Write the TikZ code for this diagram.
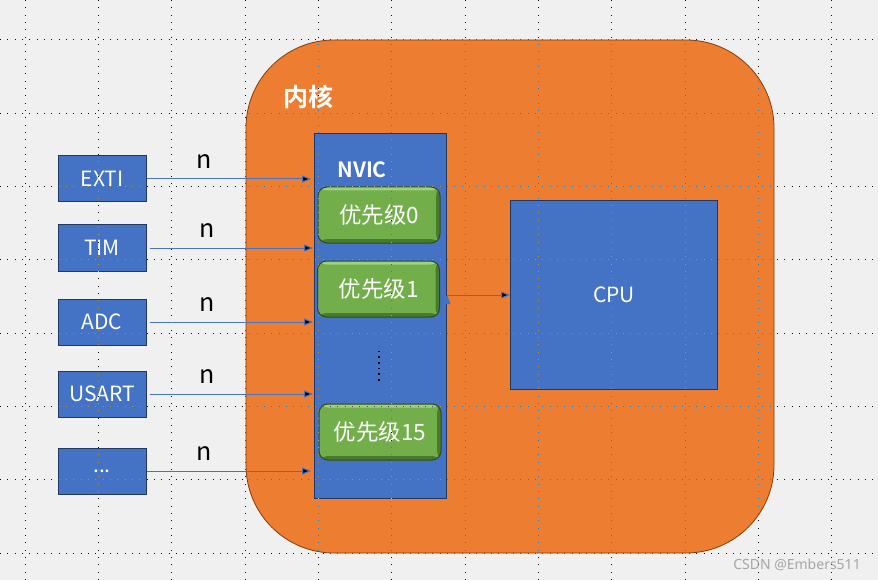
\documentclass[tikz,border=0pt]{standalone}
\usepackage{fontspec}
\setmainfont{Noto Sans CJK SC}[BoldFont={Noto Sans CJK SC Bold}]
\newfontfamily\markfont{Noto Sans}
\usetikzlibrary{arrows.meta}
\definecolor{bggray}{HTML}{F0F0F0}
\definecolor{coreorange}{HTML}{ED7D31}
\definecolor{corerim}{HTML}{843C0C}
\definecolor{boxblue}{HTML}{4472C4}
\definecolor{boxrim}{HTML}{203864}
\definecolor{prigreen}{HTML}{72AF4A}
\definecolor{prilight}{HTML}{9FD27C}
\definecolor{pridark}{HTML}{4A7A2C}
\definecolor{pririm}{HTML}{2E4A1C}
\definecolor{markgray}{HTML}{A6A6A6}

\begin{document}
\begin{tikzpicture}[x=1pt,y=-1pt,
  src node/.style={rectangle,draw=boxrim,fill=boxblue,line width=1pt,minimum width=88pt,minimum height=46pt,inner sep=0pt,text=white,font=\fontsize{21}{21}\selectfont},
  prio node/.style={rectangle,rounded corners=9pt,draw=pririm,fill=prigreen,line width=1pt,minimum width=122pt,minimum height=56pt,inner sep=0pt,text=white,font=\fontsize{22.5}{22.5}\selectfont,
    path picture={
      \fill[prilight] (path picture bounding box.north west) rectangle ([yshift=-3.5pt]path picture bounding box.north east);
      \fill[pridark] ([yshift=4pt]path picture bounding box.south west) rectangle (path picture bounding box.south east);
      \fill[pridark] ([xshift=-4pt]path picture bounding box.north east) rectangle (path picture bounding box.south east);}},
  head label/.style={text=white,font=\bfseries\fontsize{21}{21}\selectfont,inner sep=0pt},
  n label/.style={above=7pt,pos=0.35,text=black,font=\fontsize{25}{25}\selectfont},
  in arrow/.style={draw=boxblue,line width=1pt,-{Triangle[length=9pt,width=7pt]}},
  grid dots/.style={white,line width=1pt,dash pattern=on 1pt off 6.33pt}]

  \useasboundingbox (0,0) rectangle (878,580);
  \fill[bggray] (0,0) rectangle (878,580);

  % core block
  \node[rectangle,rounded corners=88pt,draw=corerim,fill=coreorange,line width=0.8pt,minimum width=528pt,minimum height=513pt] (core) at (510,296.5) {};
  \node[head label,font=\bfseries\fontsize{25}{25}\selectfont] (corelabel) at (308,97) {内核};

  % NVIC
  \node[rectangle,draw=boxrim,fill=boxblue,line width=1pt,minimum width=132pt,minimum height=365pt] (nvic) at (380.5,316) {};
  \node[head label] (nviclabel) at (362,170) {NVIC};
  \node[prio node] (p0) at (379,215) {优先级0};
  \node[prio node] (p1) at (378.5,289) {优先级1};
  \node[prio node] (p15) at (380,432) {优先级15};
  \draw[black,line width=1.6pt,dash pattern=on 1.6pt off 4.1pt] (379,350.5) -- (379,381);

  % CPU
  \node[rectangle,draw=boxrim,fill=boxblue,line width=1pt,minimum width=207pt,minimum height=188pt,text=white,font=\fontsize{21}{21}\selectfont] (cpu) at (614,295) {CPU};

  % sources
  \node[src node] (exti) at (102,179) {EXTI};
  \node[src node] (tim) at (102,248) {TIM};
  \node[src node] (adc) at (102,322) {ADC};
  \node[src node] (usart) at (102,394) {USART};
  \node[src node] (more) at (102,471) {...};

  \path[in arrow]
   (exti.east) edge node[n label]{n} ([xshift=-3pt]exti.east -| nvic.west)
   ([xshift=3pt]tim.east) edge node[n label]{n} ([xshift=-1pt]tim.east -| nvic.west)
   ([xshift=3pt]adc.east) edge node[n label]{n} ([xshift=-1pt]adc.east -| nvic.west)
   ([xshift=3pt]usart.east) edge node[n label]{n} ([xshift=-1pt]usart.east -| nvic.west)
   (more.east) edge node[n label]{n} ([xshift=-3pt]more.east -| nvic.west)
   (nvic.east |- cpu.west) edge (cpu.west);

  % watermark
  \node[text=markgray,font=\markfont\fontsize{14}{14}\selectfont,inner sep=0pt] (mark) at (797,565) {CSDN @Embers511};

  % screen grid
  \begin{scope}[blend mode=difference]
    \draw[grid dots,step=73.33pt,shift={(25.3,40)}] (-25.3,-40) grid (852.7,540);
  \end{scope}
\end{tikzpicture}
\end{document}
